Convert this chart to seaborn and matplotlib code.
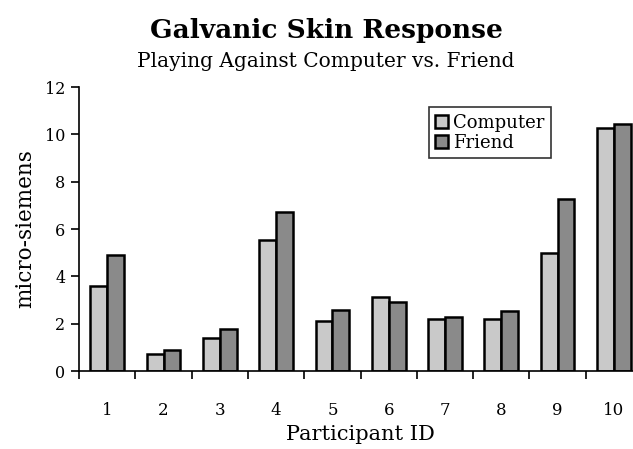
import numpy as np
import pandas as pd
import seaborn as sns
import matplotlib.pyplot as plt
from matplotlib.ticker import FixedLocator

participants = ["1", "2", "3", "4", "5", "6", "7", "8", "9", "10"]
computer = [3.6, 0.72, 1.39, 5.55, 2.1, 3.13, 2.2, 2.2, 5.0, 10.25]
friend = [4.9, 0.88, 1.77, 6.72, 2.58, 2.92, 2.28, 2.53, 7.27, 10.45]
y_ticks = [0, 2, 4, 6, 8, 10, 12]

df = pd.DataFrame({
    "participant": participants * 2,
    "value": computer + friend,
    "condition": ["Computer"] * len(computer) + ["Friend"] * len(friend),
})

sns.set_style("white")
plt.rcParams["font.family"] = ["DejaVu Serif"]
plt.rcParams["text.color"] = "black"
plt.rcParams["axes.labelcolor"] = "black"
plt.rcParams["xtick.color"] = "black"
plt.rcParams["ytick.color"] = "black"

fig = plt.figure(figsize=(6.33, 4.49), dpi=100)
ax = fig.add_axes([0.125, 0.1737, 0.875, 0.6325])

sns.barplot(data=df, x="participant", y="value", hue="condition",
            order=participants, palette={"Computer": "#c9c9c9", "Friend": "#8a8a8a"},
            width=0.6, edgecolor="black", linewidth=1.8, ax=ax)

n = len(participants)
span = (633 - 79) / 56.3
ax.set_xlim(-0.5, -0.5 + span)
ax.set_ylim(0, 12)
ax.set_yticks(y_ticks)
ax.xaxis.set_minor_locator(FixedLocator(np.arange(-0.5, n, 1.0)))
ax.tick_params(axis="x", which="major", length=0, pad=22, labelsize=12)
ax.tick_params(axis="x", which="minor", length=6, width=1.2, direction="out", bottom=True)
ax.tick_params(axis="y", length=6, width=1.2, direction="out", left=True, labelsize=11.5, pad=4)

for s in ["top", "right"]:
    ax.spines[s].set_visible(False)
for s in ["left", "bottom"]:
    ax.spines[s].set_linewidth(1.2)
    ax.spines[s].set_color("black")

ax.set_xlabel("Participant ID", fontsize=15)
ax.set_ylabel("micro-siemens", fontsize=15.5, labelpad=6)
ax.xaxis.set_label_coords(0.5 + 4 / 554, -0.19)

leg = ax.legend(loc="upper left", bbox_to_anchor=(0.615, 0.96), frameon=True,
                fancybox=False, edgecolor="black", fontsize=13,
                handlelength=0.7, handleheight=0.7, handletextpad=0.3,
                labelspacing=0.1, borderpad=0.35)
leg.get_frame().set_linewidth(1.2)
leg.set_title(None)

fig.text(0.515, 0.933, "Galvanic Skin Response", ha="center", va="center",
         fontsize=19, fontweight="bold")
fig.text(0.515, 0.862, "Playing Against Computer vs. Friend", ha="center",
         va="center", fontsize=14.5)

fig.savefig("out.png", dpi=100)
